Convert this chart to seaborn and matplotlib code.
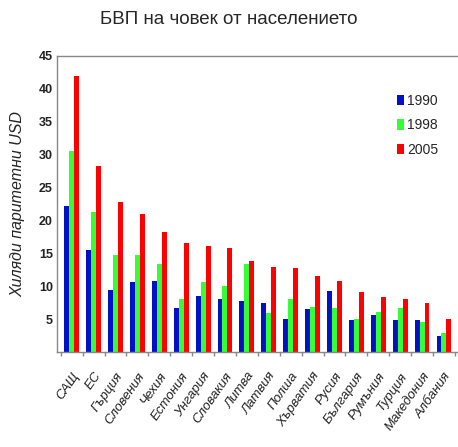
import matplotlib
matplotlib.use("Agg")
import matplotlib.pyplot as plt
import seaborn as sns
import pandas as pd
import numpy as np

# data (thousand PPP USD per capita)
countries = ["САЩ", "ЕС", "Гърция", "Словения", "Чехия", "Естония", "Унгария",
             "Словакия", "Литва", "Латвия", "Полша", "Хърватия", "Русия",
             "България", "Румъния", "Турция", "Македония", "Албания"]
years = ["1990", "1998", "2005"]
gdp_1990 = [22.2, 15.5, 9.4, 10.6, 10.8, 6.7, 8.5, 8.0, 7.7, 7.5, 5.0, 6.5, 9.3,
            4.9, 5.7, 4.9, 4.9, 2.5]
gdp_1998 = [30.6, 21.3, 14.8, 14.8, 13.3, 8.1, 10.6, 10.1, 13.3, 6.0, 8.1, 6.9, 6.7,
            5.0, 6.1, 6.7, 4.5, 2.9]
gdp_2005 = [41.9, 28.2, 22.8, 21.0, 18.2, 16.5, 16.1, 15.8, 13.9, 12.9, 12.8, 11.6,
            10.8, 9.1, 8.4, 8.0, 7.5, 5.0]
colors = ["#0011c8", "#33ff33", "#ff0000"]

df = pd.DataFrame({
    "country": countries * 3,
    "year": [y for y in years for _ in countries],
    "value": gdp_1990 + gdp_1998 + gdp_2005,
})

sns.set_theme(style="white")
plt.rcParams["font.family"] = ["Liberation Sans", "DejaVu Sans"]

fig = plt.figure(figsize=(4.58, 4.47), dpi=100)
ax = fig.add_axes([0.1245, 0.2125, 0.8735, 0.6625])

sns.barplot(data=df, x="country", y="value", hue="year", palette=colors,
            saturation=1, width=0.68, ax=ax, linewidth=0)

ax.set_ylim(0, 45)
ax.set_xlim(-0.67, 17.6)
ax.set_yticks(range(5, 50, 5))
ax.tick_params(axis="y", labelsize=9, length=0, pad=3)
for t in ax.get_yticklabels():
    t.set_fontweight("bold")
    t.set_color("#222222")

ax.set_xticks(range(len(countries)))
ax.set_xticklabels(countries, rotation=55, ha="right", rotation_mode="anchor",
                   fontsize=9.5, style="italic", color="#222222")
ax.tick_params(axis="x", length=0, pad=13)
ax.set_xticks(np.arange(-0.5, len(countries), 1), minor=True)
ax.tick_params(axis="x", which="minor", length=3, color="#888888", bottom=True)

for side in ["left", "bottom", "top"]:
    ax.spines[side].set_visible(True)
    ax.spines[side].set_color("#888888")
    ax.spines[side].set_linewidth(1)
ax.spines["right"].set_visible(False)

ax.set_xlabel("")
ax.set_ylabel("Хиляди паритетни USD", fontsize=11.5, style="italic", labelpad=10)

fig.suptitle("БВП на човек от населението", x=0.5, y=0.975, fontsize=13.5)

leg = ax.legend(loc="upper left", bbox_to_anchor=(0.835, 0.89), frameon=False,
                fontsize=10, handlelength=0.5, handleheight=0.8,
                handletextpad=0.25, labelspacing=0.75, borderaxespad=0)

fig.savefig("out.png", dpi=100)
